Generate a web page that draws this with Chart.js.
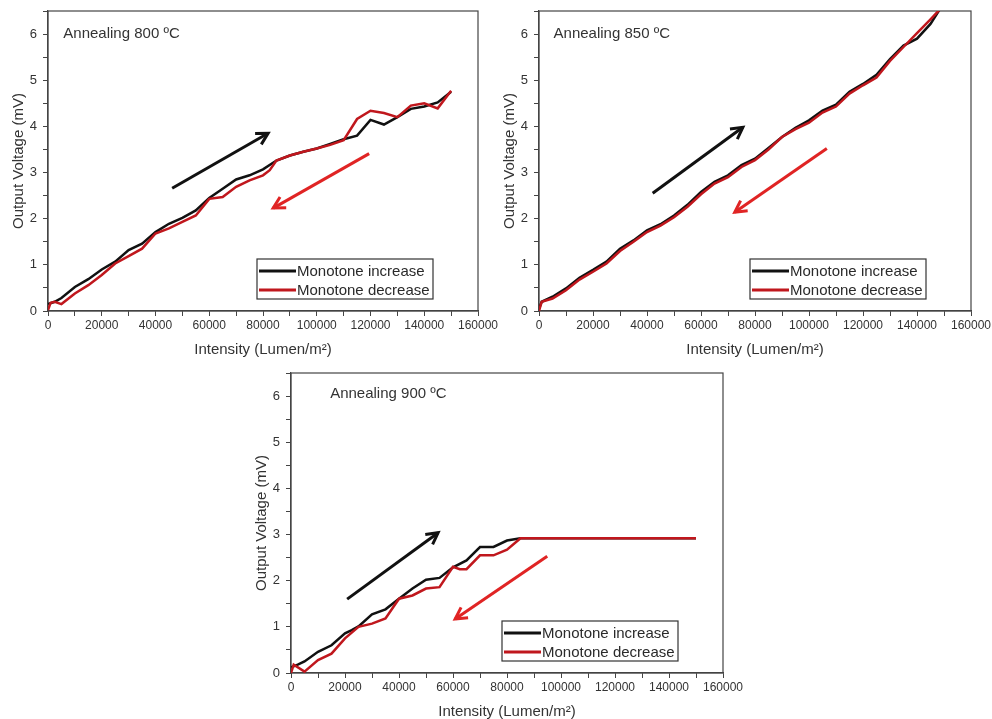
<!DOCTYPE html>
<html>
<head>
<meta charset="utf-8">
<title>Output voltage vs intensity</title>
<script src="https://cdn.jsdelivr.net/npm/chart.js@4.4.1/dist/chart.umd.min.js"></script>
<style>
  html, body { margin: 0; padding: 0; background: #fff; overflow: hidden; width: 992px; height: 719px; }
  canvas { position: absolute; }
</style>
</head>
<body>
<canvas id="c800" width="510" height="360" style="left:0;top:0"></canvas>
<canvas id="c850" width="501" height="360" style="left:491px;top:0"></canvas>
<canvas id="c900" width="500" height="362" style="left:243px;top:360px"></canvas>
<script>
// tick labels
const xTickLabels = [0, 20000, 40000, 60000, 80000, 100000, 120000, 140000, 160000]
const yTickLabels = [0, 1, 2, 3, 4, 5, 6]

// annealing 800 C
const upX800 = [0, 2500, 5000, 10000, 15000, 20000, 25000, 30000, 35000, 40000, 45000, 50000, 55000, 60000, 65000, 70000, 75000, 80000, 85000, 90000, 95000, 100000, 105000, 110000, 115000, 120000, 125000, 130000, 135000, 140000, 145000, 150000]
const upY800 = [0.15, 0.2, 0.28, 0.52, 0.69, 0.9, 1.07, 1.32, 1.46, 1.71, 1.89, 2.02, 2.18, 2.45, 2.65, 2.85, 2.94, 3.07, 3.26, 3.37, 3.45, 3.52, 3.62, 3.72, 3.8, 4.14, 4.04, 4.2, 4.38, 4.43, 4.52, 4.75]
const downX800 = [0, 1000, 2500, 5000, 10000, 15000, 20000, 25000, 30000, 35000, 40000, 45000, 50000, 55000, 60000, 65000, 70000, 75000, 80000, 82500, 85000, 90000, 95000, 100000, 105000, 110000, 115000, 120000, 125000, 130000, 135000, 140000, 145000, 150000]
const downY800 = [0.02, 0.18, 0.2, 0.15, 0.38, 0.56, 0.78, 1.03, 1.19, 1.35, 1.68, 1.79, 1.93, 2.07, 2.43, 2.47, 2.69, 2.83, 2.94, 3.05, 3.26, 3.37, 3.45, 3.52, 3.6, 3.7, 4.16, 4.34, 4.29, 4.2, 4.45, 4.5, 4.39, 4.77]

// annealing 850 C
const upX850 = [0, 1000, 5000, 10000, 15000, 20000, 25000, 30000, 35000, 40000, 45000, 50000, 55000, 60000, 65000, 70000, 75000, 80000, 85000, 90000, 95000, 100000, 105000, 110000, 115000, 120000, 125000, 130000, 135000, 140000, 145000, 150000]
const upY850 = [0.05, 0.2, 0.31, 0.49, 0.72, 0.89, 1.07, 1.35, 1.53, 1.75, 1.88, 2.07, 2.3, 2.58, 2.8, 2.94, 3.16, 3.3, 3.53, 3.77, 3.97, 4.13, 4.34, 4.47, 4.75, 4.92, 5.12, 5.46, 5.75, 5.9, 6.22, 6.68]
const downX850 = upX850
const downY850 = [0.0, 0.2, 0.27, 0.45, 0.68, 0.85, 1.03, 1.3, 1.5, 1.71, 1.85, 2.03, 2.26, 2.53, 2.76, 2.9, 3.12, 3.27, 3.5, 3.77, 3.94, 4.08, 4.3, 4.43, 4.71, 4.89, 5.06, 5.42, 5.72, 6.02, 6.32, 6.63]

// annealing 900 C
const upX900 = [0, 2500, 5000, 10000, 15000, 20000, 22500, 25000, 30000, 35000, 40000, 45000, 50000, 55000, 60000, 65000, 70000, 75000, 80000, 85000, 150000]
const upY900 = [0.12, 0.18, 0.25, 0.46, 0.6, 0.86, 0.93, 1.01, 1.27, 1.38, 1.61, 1.83, 2.02, 2.06, 2.29, 2.44, 2.73, 2.73, 2.87, 2.92, 2.92]
const downX900 = [0, 1000, 5000, 10000, 15000, 20000, 25000, 30000, 35000, 40000, 45000, 50000, 55000, 60000, 62500, 65000, 70000, 75000, 80000, 85000, 150000]
const downY900 = [0.0, 0.18, 0.03, 0.28, 0.42, 0.75, 1.0, 1.07, 1.18, 1.61, 1.68, 1.83, 1.86, 2.3, 2.25, 2.25, 2.55, 2.55, 2.67, 2.92, 2.92]

// arrows, [x, y] in data units
const arrows800 = [[[46200, 2.66], [81900, 3.85]], [[119500, 3.41], [83800, 2.23]]]
const arrows850 = [[[42100, 2.55], [75500, 3.98]], [[106600, 3.52], [72500, 2.14]]]
const arrows900 = [[[20800, 1.6], [54500, 3.04]], [[94900, 2.53], [60800, 1.17]]]

const FONT = '"Liberation Sans", Arial, sans-serif'
const BLACK = '#111111'
const RED = '#c0171d'
const ARROW_RED = '#e02424'
const AXIS = '#444444'

Chart.defaults.font.family = FONT
Chart.defaults.color = '#333'

function points (xs, ys) {
  return xs.map((x, i) => ({ x, y: ys[i] }))
}

// box around the plot area (top + right sides)
const frame = {
  id: 'frame',
  beforeDatasetsDraw (chart) {
    const { ctx, chartArea: a } = chart
    ctx.save()
    ctx.strokeStyle = AXIS
    ctx.lineWidth = 1.2
    ctx.strokeRect(a.left, a.top, a.right - a.left, a.bottom - a.top)
    ctx.restore()
  }
}

function notes (label, labelAt, arrows) {
  return {
    id: 'notes',
    afterDatasetsDraw (chart) {
      const { ctx, chartArea: a, scales: { x, y } } = chart
      ctx.save()

      ctx.font = '15px ' + FONT
      ctx.fillStyle = '#333'
      ctx.textBaseline = 'middle'
      ctx.fillText(label, x.getPixelForValue(labelAt[0]), y.getPixelForValue(labelAt[1]))

      arrows.forEach(([from, to], i) => {
        const x0 = x.getPixelForValue(from[0])
        const y0 = y.getPixelForValue(from[1])
        const x1 = x.getPixelForValue(to[0])
        const y1 = y.getPixelForValue(to[1])
        const ang = Math.atan2(y1 - y0, x1 - x0)
        const head = 13
        ctx.strokeStyle = i === 0 ? BLACK : ARROW_RED
        ctx.lineWidth = 3
        ctx.lineJoin = 'miter'
        ctx.beginPath()
        ctx.moveTo(x0, y0)
        ctx.lineTo(x1, y1)
        ctx.stroke()
        ctx.beginPath()
        ctx.moveTo(x1 - head * Math.cos(ang - 0.5), y1 - head * Math.sin(ang - 0.5))
        ctx.lineTo(x1, y1)
        ctx.lineTo(x1 - head * Math.cos(ang + 0.5), y1 - head * Math.sin(ang + 0.5))
        ctx.stroke()
      })

      // legend box, lower right
      const w = 176
      const h = 40
      const bx = a.right - 45 - w
      const by = a.bottom - 12 - h
      ctx.fillStyle = '#fff'
      ctx.fillRect(bx, by, w, h)
      ctx.strokeStyle = '#333'
      ctx.lineWidth = 1.2
      ctx.strokeRect(bx, by, w, h)
      chart.data.datasets.forEach((ds, i) => {
        const ly = by + 12 + i * 19
        ctx.strokeStyle = ds.borderColor
        ctx.lineWidth = 3
        ctx.beginPath()
        ctx.moveTo(bx + 2, ly)
        ctx.lineTo(bx + 39, ly)
        ctx.stroke()
        ctx.fillStyle = '#2a2a2a'
        ctx.font = '15px ' + FONT
        ctx.fillText(ds.label, bx + 40, ly + 1)
      })
      ctx.restore()
    }
  }
}

function makeChart (id, pad, up, down, label, labelAt, arrows) {
  return new Chart(document.getElementById(id), {
    type: 'line',
    data: {
      datasets: [
        { label: 'Monotone increase', data: points(up[0], up[1]), borderColor: BLACK, order: 2 },
        { label: 'Monotone decrease', data: points(down[0], down[1]), borderColor: RED, order: 1 }
      ]
    },
    options: {
      responsive: false,
      animation: false,
      devicePixelRatio: 1,
      layout: { padding: pad },
      elements: {
        line: { borderWidth: 2.5, tension: 0 },
        point: { radius: 0, hoverRadius: 0 }
      },
      scales: {
        x: {
          type: 'linear',
          min: 0,
          max: 160000,
          afterFit (s) { s.height = 49; s.paddingLeft = 0; s.paddingRight = 0 },
          grid: { drawOnChartArea: false, tickLength: 5, tickColor: AXIS },
          border: { color: AXIS, width: 1.2 },
          ticks: {
            stepSize: 10000,
            autoSkip: false,
            maxRotation: 0,
            padding: 2,
            font: { size: 12 },
            callback: v => xTickLabels.includes(v) ? String(v) : ''
          },
          title: { display: true, text: 'Intensity (Lumen/m²)', font: { size: 15 }, padding: { top: 0, bottom: 1 } }
        },
        y: {
          min: 0,
          max: 6.5,
          afterFit (s) { s.width = 48; s.paddingTop = 0; s.paddingBottom = 0 },
          grid: { drawOnChartArea: false, tickLength: 5, tickColor: AXIS },
          border: { color: AXIS, width: 1.2 },
          ticks: {
            stepSize: 0.5,
            autoSkip: false,
            padding: 6,
            font: { size: 13 },
            callback: v => yTickLabels.includes(v) ? String(v) : ''
          },
          title: { display: true, text: 'Output Voltage (mV)', font: { size: 15 }, padding: { top: 10, bottom: 0 } }
        }
      },
      plugins: {
        legend: { display: false },
        tooltip: { enabled: false }
      }
    },
    plugins: [frame, notes(label, labelAt, arrows)]
  })
}

makeChart('c800', { left: 0, top: 11, right: 32, bottom: 0 },
  [upX800, upY800], [downX800, downY800], 'Annealing 800 ºC', [5700, 6.0], arrows800)
makeChart('c850', { left: 0, top: 11, right: 21, bottom: 0 },
  [upX850, upY850], [downX850, downY850], 'Annealing 850 ºC', [5400, 6.0], arrows850)
makeChart('c900', { left: 0, top: 13, right: 20, bottom: 0 },
  [upX900, upY900], [downX900, downY900], 'Annealing 900 ºC', [14500, 6.04], arrows900)
</script>
</body>
</html>
